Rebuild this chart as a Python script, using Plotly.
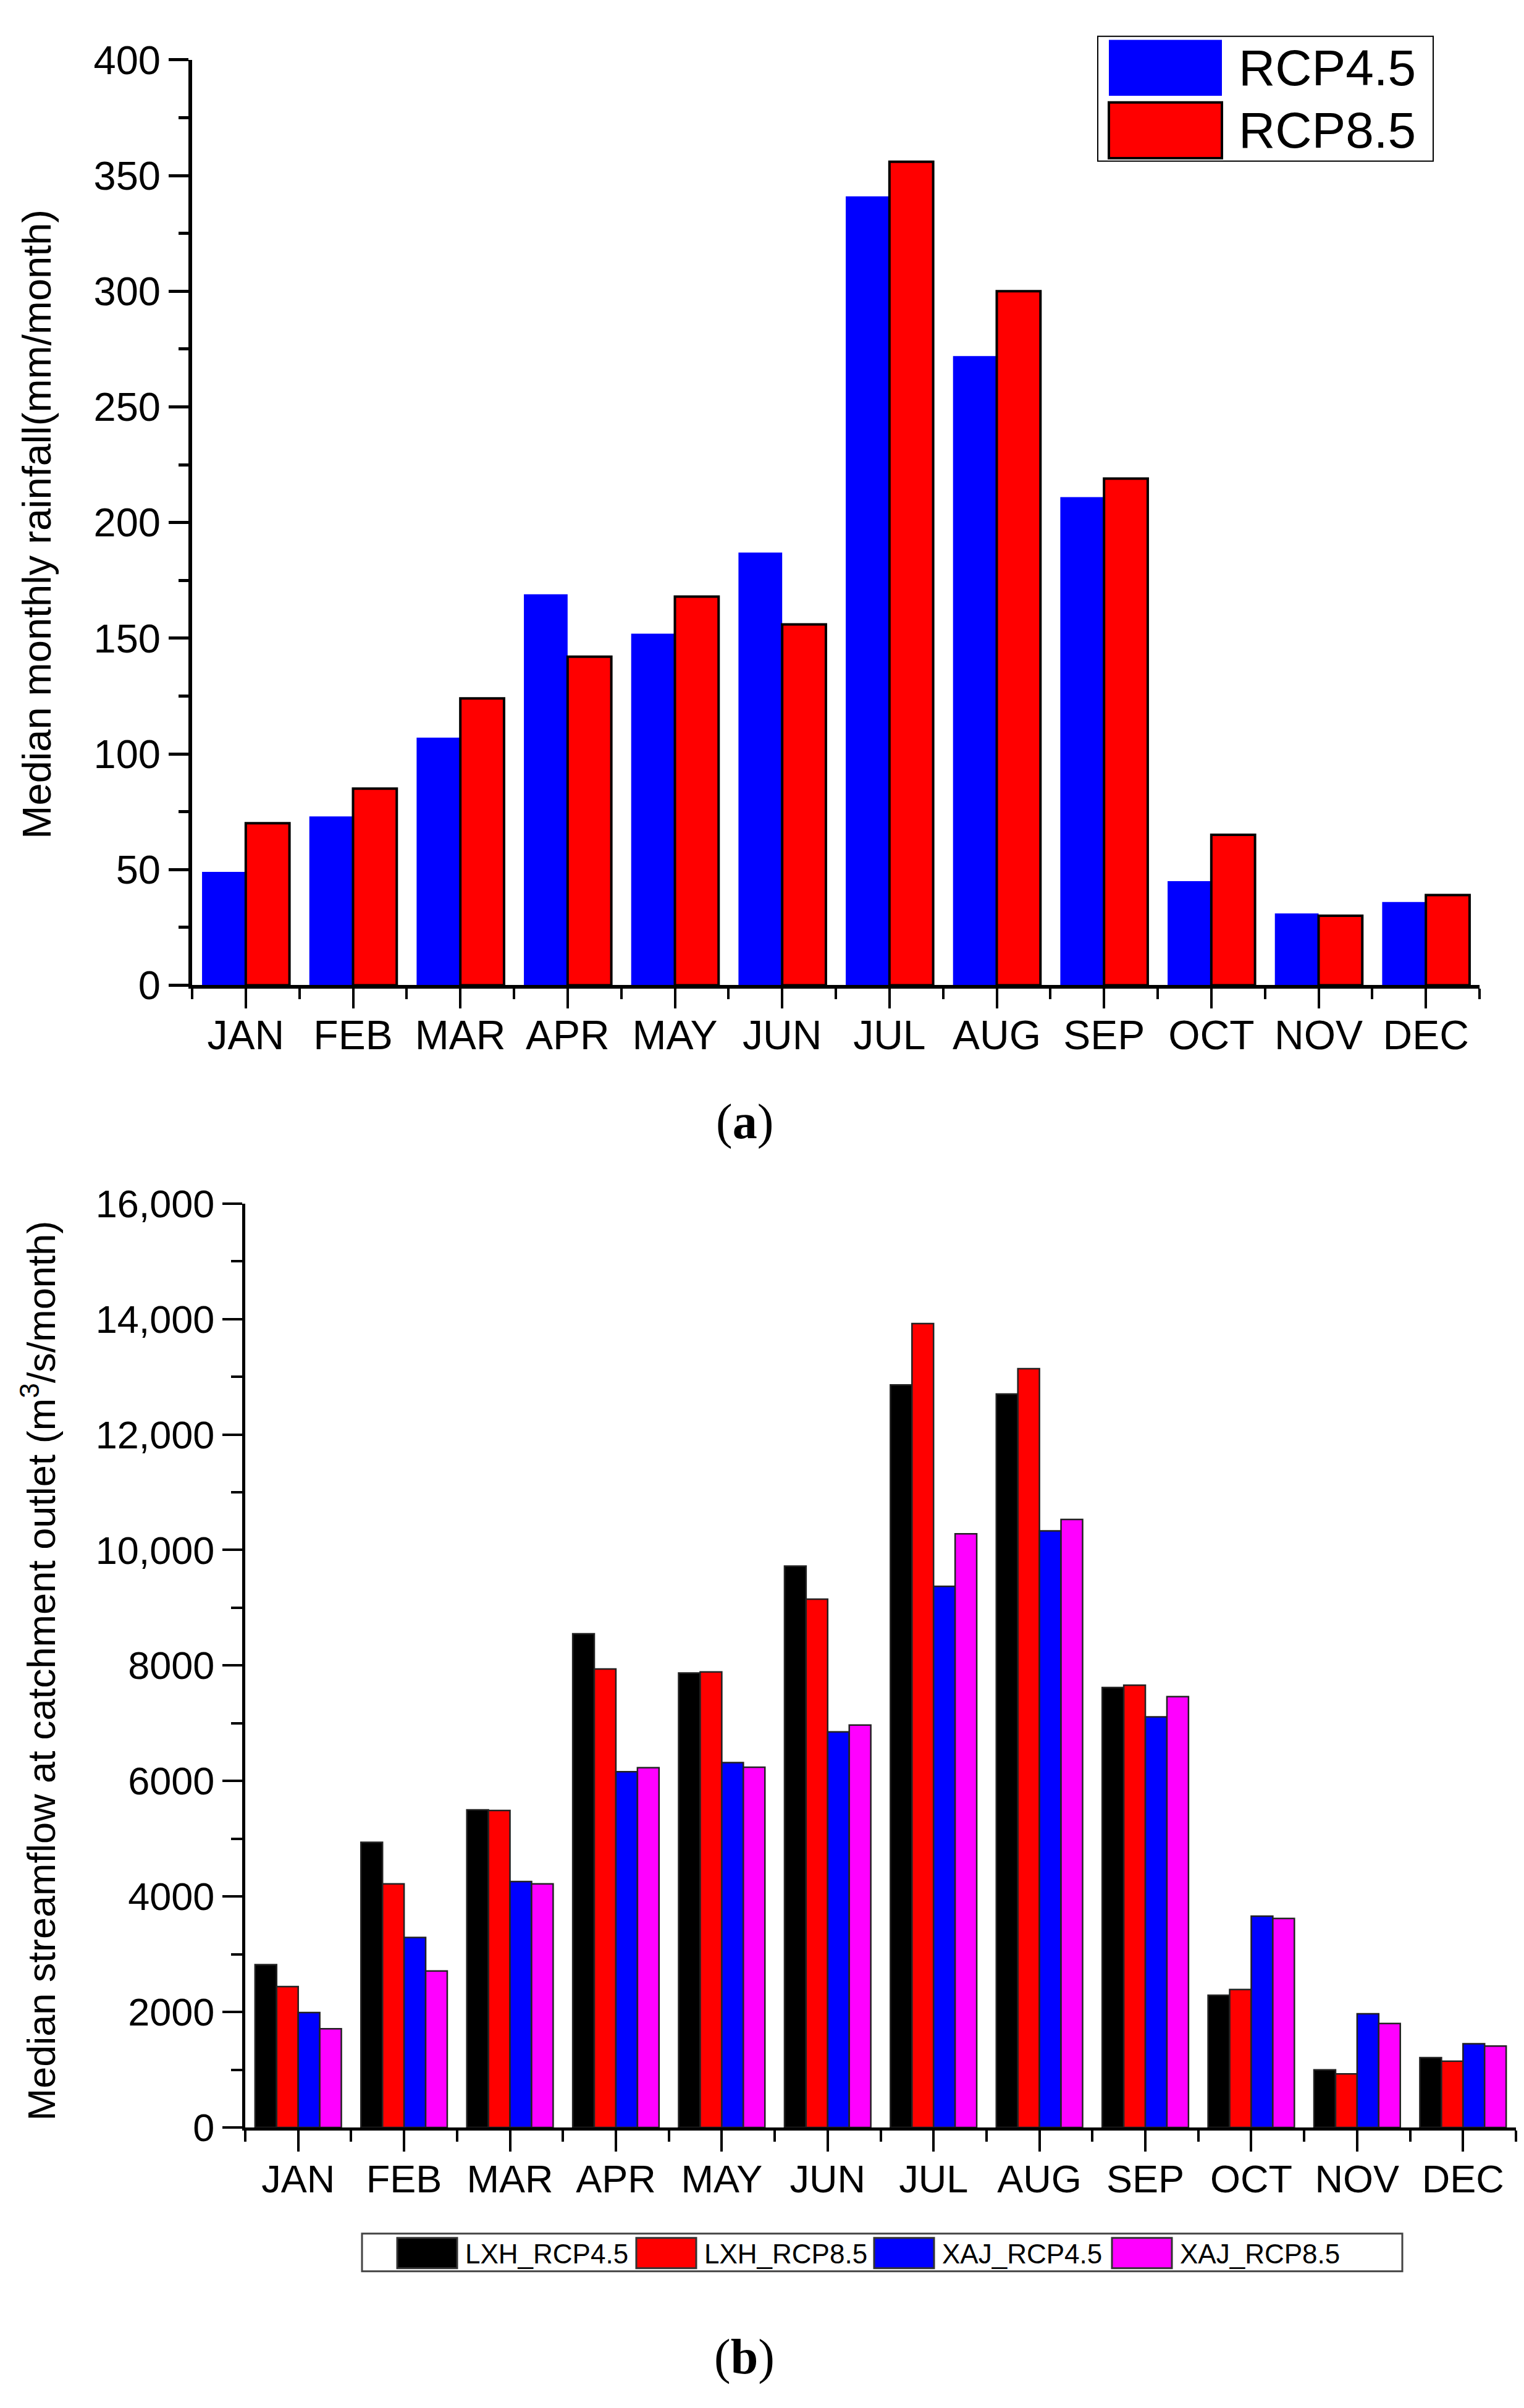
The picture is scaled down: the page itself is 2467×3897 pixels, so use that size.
import plotly.graph_objects as go

# month labels and positions on the numeric x axis
months = ["JAN", "FEB", "MAR", "APR", "MAY", "JUN",
          "JUL", "AUG", "SEP", "OCT", "NOV", "DEC"]
month_idx = list(range(len(months)))

# (a) median monthly rainfall, mm/month
rain_rcp45 = [49, 73, 107, 169, 152, 187, 341, 272, 211, 45, 31, 36]
rain_rcp85 = [70, 85, 124, 142, 168, 156, 356, 300, 219, 65, 30, 39]

# (b) median streamflow at catchment outlet, m3/s/month
lxh_rcp45 = [2820, 4940, 5500, 8550, 7870, 9720, 12860, 12700, 7620, 2290, 1000, 1210]
lxh_rcp85 = [2440, 4220, 5490, 7940, 7890, 9150, 13920, 13140, 7660, 2390, 930, 1150]
xaj_rcp45 = [1990, 3290, 4260, 6160, 6320, 6850, 9370, 10330, 7110, 3660, 1970, 1450]
xaj_rcp85 = [1710, 2710, 4220, 6230, 6240, 6970, 10280, 10530, 7460, 3620, 1800, 1410]

flow_ticks = [0, 2000, 4000, 6000, 8000, 10000, 12000, 14000, 16000]
flow_ticklabels = ["0", "2000", "4000", "6000", "8000", "10,000", "12,000", "14,000", "16,000"]

W, H = 2467, 3897
SANS = "Liberation Sans"
SERIF = "Liberation Serif"

fig = go.Figure()

# panel (a)
fig.add_trace(go.Bar(x=month_idx, y=rain_rcp45, name="RCP4.5",
                     marker=dict(color="#0000FF", line=dict(width=0)),
                     xaxis="x", yaxis="y"))
fig.add_trace(go.Bar(x=month_idx, y=rain_rcp85, name="RCP8.5",
                     marker=dict(color="#FF0000", line=dict(color="black", width=4)),
                     xaxis="x", yaxis="y"))

# panel (b)
series_b = [
    ("LXH_RCP4.5", lxh_rcp45, "#000000"),
    ("LXH_RCP8.5", lxh_rcp85, "#FF0000"),
    ("XAJ_RCP4.5", xaj_rcp45, "#0000FF"),
    ("XAJ_RCP8.5", xaj_rcp85, "#FF00FF"),
]
for name, vals, col in series_b:
    fig.add_trace(go.Bar(x=month_idx, y=vals, name=name,
                         marker=dict(color=col, line=dict(color="#222222", width=2.5)),
                         xaxis="x2", yaxis="y2"))


def px_x(p):
    return p / W


def px_y(p):
    return 1 - p / H


xaxis_common = dict(
    range=[-0.5, 11.5], tickmode="array", tickvals=month_idx, ticktext=months,
    ticks="outside", tickcolor="black", showline=True, linecolor="black",
    showgrid=False, zeroline=False, fixedrange=True,
)
yaxis_common = dict(
    ticks="outside", tickcolor="black", showline=True, linecolor="black",
    showgrid=False, zeroline=False,
)

fig.update_layout(
    width=W, height=H,
    margin=dict(l=0, r=0, t=0, b=0),
    paper_bgcolor="white", plot_bgcolor="white",
    barmode="group", bargap=0.185, bargroupgap=0,
    showlegend=False,
    font=dict(family=SANS, color="black"),
    xaxis=dict(xaxis_common, domain=[px_x(303), px_x(2387)], anchor="y",
               ticklen=32, tickwidth=4, linewidth=6, ticklabelstandoff=-14,
               tickfont=dict(family=SANS, size=66, color="black"),
               minor=dict(tickmode="linear", tick0=-0.5, dtick=1, ticks="outside",
                          ticklen=17, tickwidth=4, tickcolor="black", showgrid=False)),
    yaxis=dict(yaxis_common, domain=[px_y(1580), px_y(54)], anchor="x",
               range=[0, 400], tick0=0, dtick=50, ticklen=32, tickwidth=5, linewidth=6,
               tickfont=dict(family=SANS, size=65, color="black"),
               minor=dict(tick0=0, dtick=25, ticks="outside", ticklen=16, tickwidth=5,
                          tickcolor="black", showgrid=False)),
    xaxis2=dict(xaxis_common, domain=[px_x(389), px_x(2446)], anchor="y2",
                ticklen=34, tickwidth=4, linewidth=5, ticklabelstandoff=-10,
                tickfont=dict(family=SANS, size=63, color="black"),
                minor=dict(tickmode="linear", tick0=-0.5, dtick=1, ticks="outside",
                           ticklen=18, tickwidth=4, tickcolor="black", showgrid=False)),
    yaxis2=dict(yaxis_common, domain=[px_y(3464), px_y(1940)], anchor="x2",
                range=[0, 16000], tickmode="array", tickvals=flow_ticks,
                ticktext=flow_ticklabels, ticklen=32, tickwidth=4, linewidth=5,
                tickfont=dict(family=SANS, size=63, color="black"),
                minor=dict(tickmode="linear", tick0=0, dtick=1000, ticks="outside",
                           ticklen=18, tickwidth=4, tickcolor="black", showgrid=False)),
)

shapes = []
annotations = []

# axis titles
annotations.append(dict(text="Median monthly rainfall(mm/month)", textangle=-90,
                        x=px_x(52), y=px_y(820), xref="paper", yref="paper",
                        xanchor="center", yanchor="middle", showarrow=False,
                        font=dict(family=SANS, size=65, color="black")))
annotations.append(dict(text="Median streamflow at catchment outlet (m<sup>3</sup>/s/month)",
                        textangle=-90, x=px_x(54), y=px_y(2711), xref="paper", yref="paper",
                        xanchor="center", yanchor="middle", showarrow=False,
                        font=dict(family=SANS, size=63, color="black")))

# panel captions
annotations.append(dict(text="(<b>a</b>)", x=px_x(1197), y=px_y(1805), xref="paper",
                        yref="paper", xanchor="center", yanchor="middle", showarrow=False,
                        font=dict(family=SERIF, size=80, color="black")))
annotations.append(dict(text="(<b>b</b>)", x=px_x(1197), y=px_y(3842), xref="paper",
                        yref="paper", xanchor="center", yanchor="middle", showarrow=False,
                        font=dict(family=SERIF, size=80, color="black")))

# legend of panel (a)
shapes.append(dict(type="rect", xref="paper", yref="paper",
                   x0=px_x(1769), x1=px_x(2312), y0=px_y(221), y1=px_y(15),
                   line=dict(color="black", width=2), fillcolor="white"))
legend_a = [("RCP4.5", "#0000FF", 0, 21), ("RCP8.5", "#FF0000", 4, 124)]
for name, col, lw, top in legend_a:
    shapes.append(dict(type="rect", xref="paper", yref="paper",
                       x0=px_x(1787), x1=px_x(1970), y0=px_y(top + 92), y1=px_y(top),
                       line=dict(color="black", width=lw), fillcolor=col))
    annotations.append(dict(text=name, x=px_x(1995), y=px_y(top + 46), xref="paper",
                            yref="paper", xanchor="left", yanchor="middle",
                            showarrow=False, font=dict(family=SANS, size=82, color="black")))

# legend of panel (b)
shapes.append(dict(type="rect", xref="paper", yref="paper",
                   x0=px_x(578), x1=px_x(2262), y0=px_y(3701), y1=px_y(3639),
                   line=dict(color="#444444", width=3), fillcolor="white"))
legend_b_left = [635, 1022, 1407, 1792]
for (name, vals, col), left in zip(series_b, legend_b_left):
    shapes.append(dict(type="rect", xref="paper", yref="paper",
                       x0=px_x(left), x1=px_x(left + 97), y0=px_y(3696), y1=px_y(3646),
                       line=dict(color="#333333", width=3), fillcolor=col))
    annotations.append(dict(text=name, x=px_x(left + 108), y=px_y(3672), xref="paper",
                            yref="paper", xanchor="left", yanchor="middle",
                            showarrow=False, font=dict(family=SANS, size=44, color="black")))

fig.update_layout(shapes=shapes, annotations=annotations)

fig.write_html("out.html")
